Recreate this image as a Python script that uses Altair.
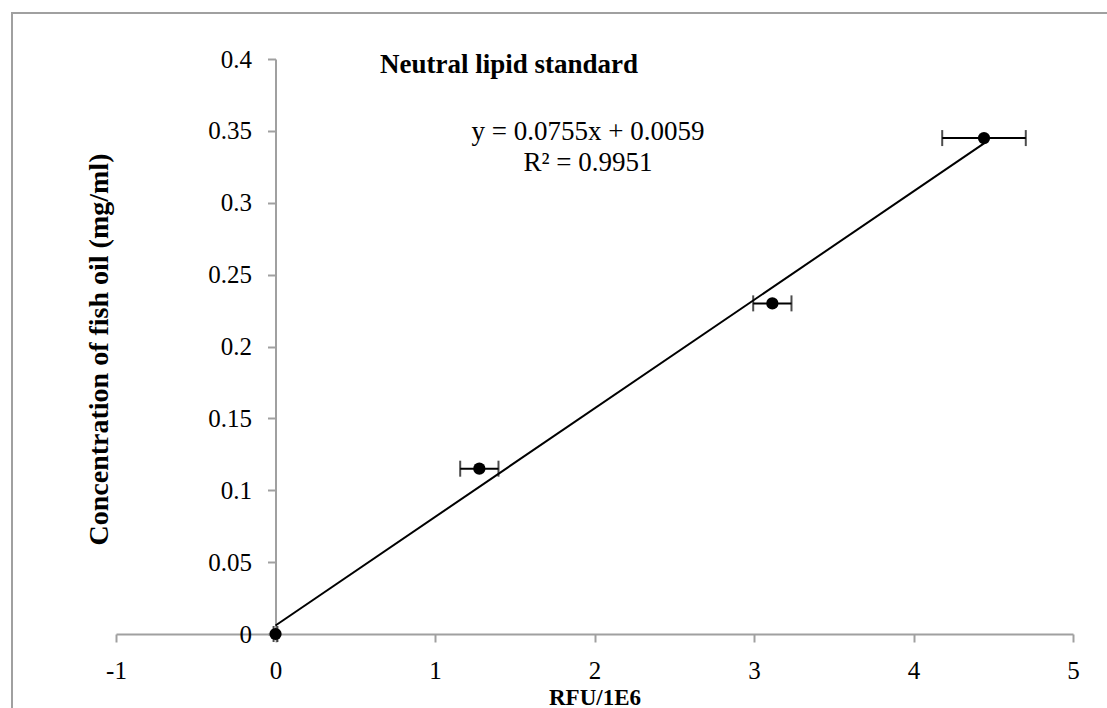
import altair as alt
import pandas as pd

# Calibration points: fluorescence (RFU / 1E6) vs fish-oil concentration
rfu = [0.0, 1.278, 3.115, 4.442]
conc = [0.0, 0.115, 0.23, 0.345]
rfu_err = [0.012, 0.12, 0.12, 0.262]

# Linear trendline as reported on the chart
slope = 0.0755
intercept = 0.0059
r_squared = 0.9951

x_ticks = [-1, 0, 1, 2, 3, 4, 5]
y_ticks = [0, 0.05, 0.1, 0.15, 0.2, 0.25, 0.3, 0.35, 0.4]

title_text = "Neutral lipid standard"
x_title = "RFU/1E6"
y_title = "Concentration of fish oil (mg/ml)"
eq_text = f"y = {slope}x + {intercept}"
r2_text = f"R\u00b2 = {r_squared}"

SERIF = "Liberation Serif"
AXIS_GREY = "#a0a0a0"

pts = pd.DataFrame({
    "rfu": rfu,
    "conc": conc,
    "lo": [r - e for r, e in zip(rfu, rfu_err)],
    "hi": [r + e for r, e in zip(rfu, rfu_err)],
})

x0, x1 = min(rfu), max(rfu)
trend = pd.DataFrame({
    "rfu": [x0, x1],
    "conc": [slope * x0 + intercept, slope * x1 + intercept],
})

x_scale = alt.Scale(domain=[-1, 5], nice=False, zero=False)
y_scale = alt.Scale(domain=[0, 0.4], nice=False)

x_axis = alt.Axis(
    values=x_ticks,
    labelExpr="'' + datum.value",
    labelFlush=False,
    title=x_title,
    titleFont=SERIF, titleFontSize=23, titleFontWeight="bold", titleColor="black",
    titleY=63, titleBaseline="middle",
    labelFont=SERIF, labelFontSize=25, labelColor="black", labelPadding=16,
    domainColor=AXIS_GREY, domainWidth=2,
    tickColor=AXIS_GREY, tickWidth=2, tickSize=8,
    grid=False,
)

# y axis crosses at x = 0, so it is shifted into the plot by one x unit
y_axis = alt.Axis(
    values=y_ticks,
    format="~g",
    labelFlush=False,
    offset=-159.5,
    title=y_title,
    titleFont=SERIF, titleFontSize=28, titleFontWeight="bold", titleColor="black",
    titleAngle=270, titleX=-176, titleY=290, titleAlign="center", titleBaseline="middle",
    labelFont=SERIF, labelFontSize=25, labelColor="black", labelPadding=16,
    domainColor=AXIS_GREY, domainWidth=2,
    tickColor=AXIS_GREY, tickWidth=2, tickSize=8,
    grid=False,
)

frame = alt.Chart(pd.DataFrame({"k": [0]})).mark_rect(
    fill=None, stroke=AXIS_GREY, strokeWidth=2
).encode(
    x=alt.value(-104), x2=alt.value(1200),
    y=alt.value(-46), y2=alt.value(800),
)

line = alt.Chart(trend).mark_line(color="black", strokeWidth=2).encode(
    x=alt.X("rfu:Q", scale=x_scale, axis=x_axis),
    y=alt.Y("conc:Q", scale=y_scale, axis=y_axis),
)

err = alt.Chart(pts).mark_rule(color="black", strokeWidth=2).encode(
    x=alt.X("lo:Q", scale=x_scale),
    x2="hi:Q",
    y=alt.Y("conc:Q", scale=y_scale),
)

cap_lo = alt.Chart(pts).mark_tick(color="black", orient="vertical", size=16, thickness=2).encode(
    x=alt.X("lo:Q", scale=x_scale),
    y=alt.Y("conc:Q", scale=y_scale),
)
cap_hi = alt.Chart(pts).mark_tick(color="black", orient="vertical", size=16, thickness=2).encode(
    x=alt.X("hi:Q", scale=x_scale),
    y=alt.Y("conc:Q", scale=y_scale),
)

dots = alt.Chart(pts).mark_point(filled=True, color="black", opacity=1, size=150).encode(
    x=alt.X("rfu:Q", scale=x_scale),
    y=alt.Y("conc:Q", scale=y_scale),
)

text_src = pd.DataFrame({"title": [title_text], "eq": [eq_text], "r2": [r2_text]})

title = alt.Chart(text_src).mark_text(
    font=SERIF, fontSize=27, fontWeight="bold", color="black",
    align="center", baseline="alphabetic",
).encode(text="title:N", x=alt.value(393), y=alt.value(14))

eq_line = alt.Chart(text_src).mark_text(
    font=SERIF, fontSize=27, color="black", align="center", baseline="alphabetic",
).encode(text="eq:N", x=alt.value(472), y=alt.value(81))

r2_line = alt.Chart(text_src).mark_text(
    font=SERIF, fontSize=27, color="black", align="center", baseline="alphabetic",
).encode(text="r2:N", x=alt.value(472), y=alt.value(112))

chart = alt.layer(frame, line, err, cap_lo, cap_hi, dots, title, eq_line, r2_line).properties(
    width=957,
    height=575,
    autosize=alt.AutoSizeParams(type="none"),
    padding={"left": 116, "top": 59, "right": 34, "bottom": 74},
    background="white",
).configure_view(stroke=None)

chart.save("out.html", embed_options={"renderer": "svg", "actions": False})
